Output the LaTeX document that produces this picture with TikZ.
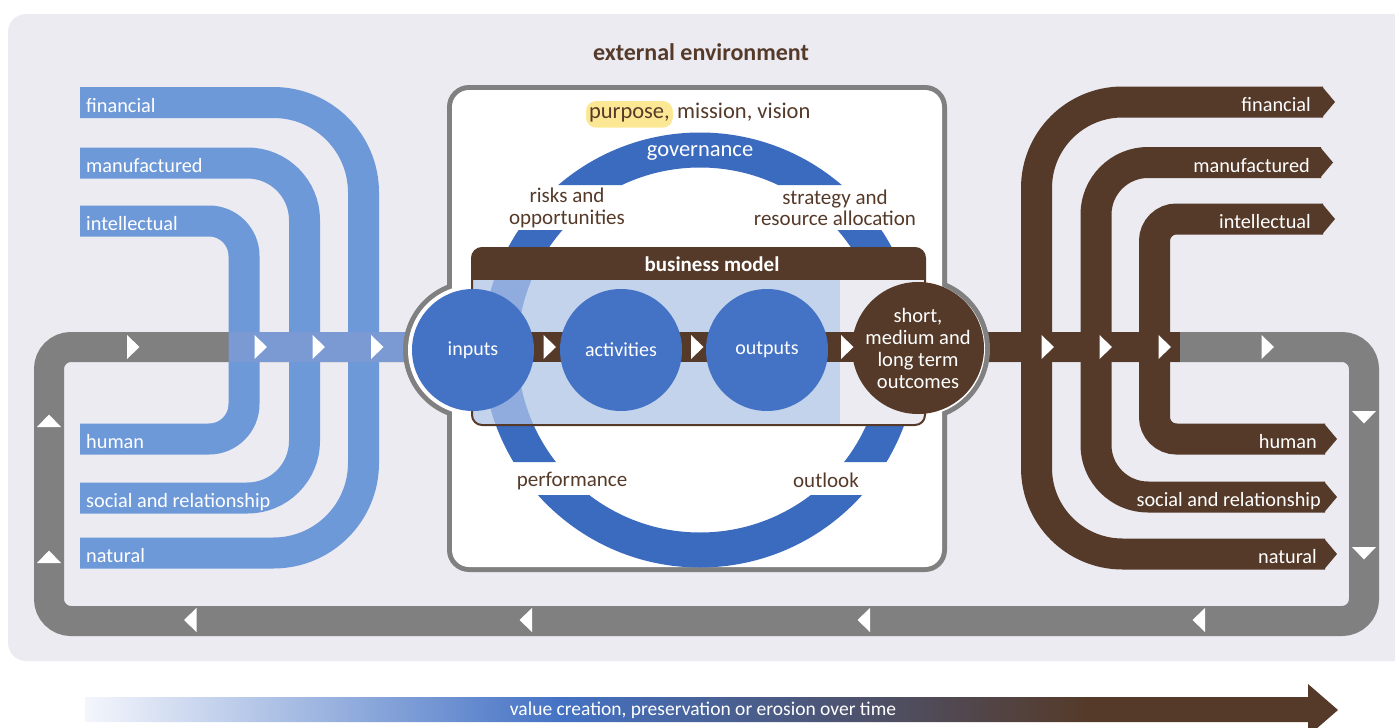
\documentclass[tikz,border=0pt]{standalone}
\usepackage{fontspec}
\setmainfont{Carlito}
\usetikzlibrary{positioning}

\definecolor{bgpanel}{HTML}{ECEBF2}
\definecolor{loopgray}{HTML}{808080}
\definecolor{capblue}{HTML}{6E99D8}
\definecolor{stripblue}{HTML}{7B9AD4}
\definecolor{ringblue}{HTML}{3B6BBF}
\definecolor{circblue}{HTML}{4472C4}
\definecolor{paleblue}{HTML}{C3D3EC}
\definecolor{ringpale}{HTML}{90ABDD}
\definecolor{capbrown}{HTML}{553A29}
\definecolor{hiyellow}{HTML}{FCE894}
\definecolor{gradpale}{HTML}{F4F6FC}

\pgfdeclarehorizontalshading{valuegrad}{100bp}{color(0bp)=(gradpale); color(25bp)=(gradpale); color(44bp)=(circblue); color(65bp)=(capbrown); color(100bp)=(capbrown)}

\tikzset{
  flowtip/.pic={\fill[white] (-6,-12) -- (6.5,0) -- (-6,12) -- cycle;},
  capband/.style={line width=31pt, draw=capblue},
  outband/.style={line width=31pt, draw=capbrown},
  caplabel/.style={text=white, font=\fontsize{20.3}{24}\selectfont, inner sep=0pt},
  envlabel/.style={text=capbrown, font=\fontsize{21}{21.5}\selectfont, align=center, inner sep=0pt},
  stage/.style={circle, fill=circblue, minimum size=122pt, inner sep=0pt, text=white,
    font=\fontsize{20}{22}\selectfont, align=center}
}

\begin{document}
\begin{tikzpicture}[x=1pt, y=-1pt]
    \useasboundingbox (0,0) rectangle (1395,728);

    % Background panel and title
    \fill[bgpanel, rounded corners=18] (8,14) rectangle (1420,661);
    \node[font=\bfseries\fontsize{24}{26}\selectfont, text=capbrown] (envtitle) at (701,52) {external environment};

    % Draw the feedback loop
    \draw[loopgray, line width=30pt, rounded corners=22] (49,347) rectangle (1364,621);

    % Input capitals
    \draw[capband, rounded corners=90] (80,102.5) -- (363.5,102.5) -- (363.5,347);
    \draw[capband, rounded corners=57] (80,163) -- (304.5,163) -- (304.5,347);
    \draw[capband, rounded corners=35] (80,221) -- (244,221) -- (244,347);
    \draw[capband, rounded corners=35] (80,439) -- (244,439) -- (244,347);
    \draw[capband, rounded corners=57] (80,498) -- (304.5,498) -- (304.5,347);
    \draw[capband, rounded corners=90] (80,553) -- (363.5,553) -- (363.5,347);

    % Output capitals
    \draw[outband, rounded corners=86] (1036.5,347) -- (1036.5,102) -- (1323,102);
    \draw[outband, rounded corners=52] (1096,347) -- (1096,162.5) -- (1321,162.5);
    \draw[outband, rounded corners=22] (1154.5,347) -- (1154.5,219) -- (1323,219);
    \draw[outband, rounded corners=22] (1154.5,347) -- (1154.5,439) -- (1325,439);
    \draw[outband, rounded corners=52] (1096,347) -- (1096,497) -- (1325,497);
    \draw[outband, rounded corners=86] (1036.5,347) -- (1036.5,554) -- (1325,554);
    \foreach \y/\b in {102/1322, 162.5/1320, 219/1322, 439/1324, 497/1324, 554/1324}
        \fill[capbrown] (\b,\y-15.5) -- (\b+13,\y) -- (\b,\y+15.5) -- cycle;

    % Strips into and out of the centre
    \draw[stripblue, line width=30pt] (229,347) -- (420,347);
    \draw[capbrown, line width=30pt] (930,347) -- (1180,347);

    % Centre box with its two bumps
    \fill[loopgray, rounded corners=22] (447,85) rectangle (947,572);
    \fill[loopgray] (473,350) circle (70);
    \fill[loopgray] (918,349) circle (72);
    \fill[white, rounded corners=17] (452,90) rectangle (942,567);
    \fill[white] (473,350) circle (65);
    \fill[white] (918,349) circle (67);

    % Governance ring
    \begin{scope}
        \clip (440,80) rectangle (960,185) (440,230) rectangle (960,462) (440,495) rectangle (960,580);
        \draw[ringblue, line width=35pt] (700,350) circle (200);
    \end{scope}

    % Business model
    \begin{scope}
        \clip[rounded corners=10] (472,248) rectangle (925,425);
        \fill[capbrown] (472,248) rectangle (925,281);
        \fill[paleblue] (472,280) rectangle (840,425);
        \fill[bgpanel] (840,280) rectangle (925,425);
        \clip (472,280) rectangle (840,425);
        \draw[ringpale, line width=35pt] (700,350) circle (200);
    \end{scope}
    \draw[capbrown, line width=2pt, rounded corners=10] (472,248) rectangle (925,425);
    \node[font=\bfseries\fontsize{21}{24}\selectfont, text=white] (bmodel) at (712,264) {business model};

    % Value chain
    \draw[capbrown, line width=30pt] (473,347) -- (918,347);
    \node[stage] (inputs) at (473,350) {inputs};
    \node[stage] (activities) at (621,350) {activities};
    \node[stage] (outputs) at (767,350) {outputs};
    \node[stage, fill=capbrown, font=\fontsize{20.5}{22}\selectfont] (outcomes) at (918,348) {short,\\medium and\\long term\\outcomes};

    % Flow tips
    \foreach \x in {133, 260.5, 318.5, 377, 549.5, 697, 847, 1047.5, 1105.5, 1164.5, 1267.5}
        \pic at (\x,347) {flowtip};
    \foreach \y in {417, 553}
        \pic[rotate=-90] at (1364,\y) {flowtip};
    \foreach \y in {421, 557}
        \pic[rotate=90] at (49,\y) {flowtip};
    \foreach \x in {190.5, 526, 864, 1199}
        \pic[rotate=180] at (\x,620) {flowtip};

    % Labels for the capitals
    \node[caplabel, anchor=base west] (finin) at (86,112) {financial};
    \node[caplabel, anchor=base west] (manin) at (86,172.5) {manufactured};
    \node[caplabel, anchor=base west] (intin) at (86,230.5) {intellectual};
    \node[caplabel, anchor=base west] (humin) at (86,448.5) {human};
    \node[caplabel, anchor=base west] (socin) at (86,507.5) {social and relationship};
    \node[caplabel, anchor=base west] (natin) at (86,562.5) {natural};
    \node[caplabel, anchor=base east] (finout) at (1311,111.5) {financial};
    \node[caplabel, anchor=base east] (manout) at (1310,172) {manufactured};
    \node[caplabel, anchor=base east] (intout) at (1311,228.5) {intellectual};
    \node[caplabel, anchor=base east] (humout) at (1317,448.5) {human};
    \node[caplabel, anchor=base east] (socout) at (1321,506.5) {social and relationship};
    \node[caplabel, anchor=base east] (natout) at (1317,563.5) {natural};

    % Labels inside the centre box
    \node[envlabel, font=\fontsize{22.5}{24}\selectfont, fill=hiyellow, rounded corners=10, inner xsep=3pt, inner ysep=6pt, anchor=base east] (purpose) at (673,118) {purpose,};
    \node[envlabel, font=\fontsize{22.5}{24}\selectfont, anchor=base west] (mission) at ([xshift=4pt]purpose.base east) {mission, vision};
    \node[envlabel, font=\fontsize{22.5}{24}\selectfont, text=white] (govern) at (700,153) {governance};
    \node[envlabel] (risks) at (567,208) {risks and\\opportunities};
    \node[envlabel] (strategy) at (835,208) {strategy and\\resource allocation};
    \node[envlabel] (perform) at (572,481) {performance};
    \node[envlabel] (outlook) at (826,480) {outlook};

    % Value over time
    \shade[shading=valuegrad] (85,697) -- (1308,697) -- (1308,684) -- (1338,710) -- (1308,736) -- (1308,722) -- (85,722) -- cycle;
    \node[text=white, font=\fontsize{19.5}{22}\selectfont] (valuetime) at (703,710) {value creation, preservation or erosion over time};
\end{tikzpicture}
\end{document}
